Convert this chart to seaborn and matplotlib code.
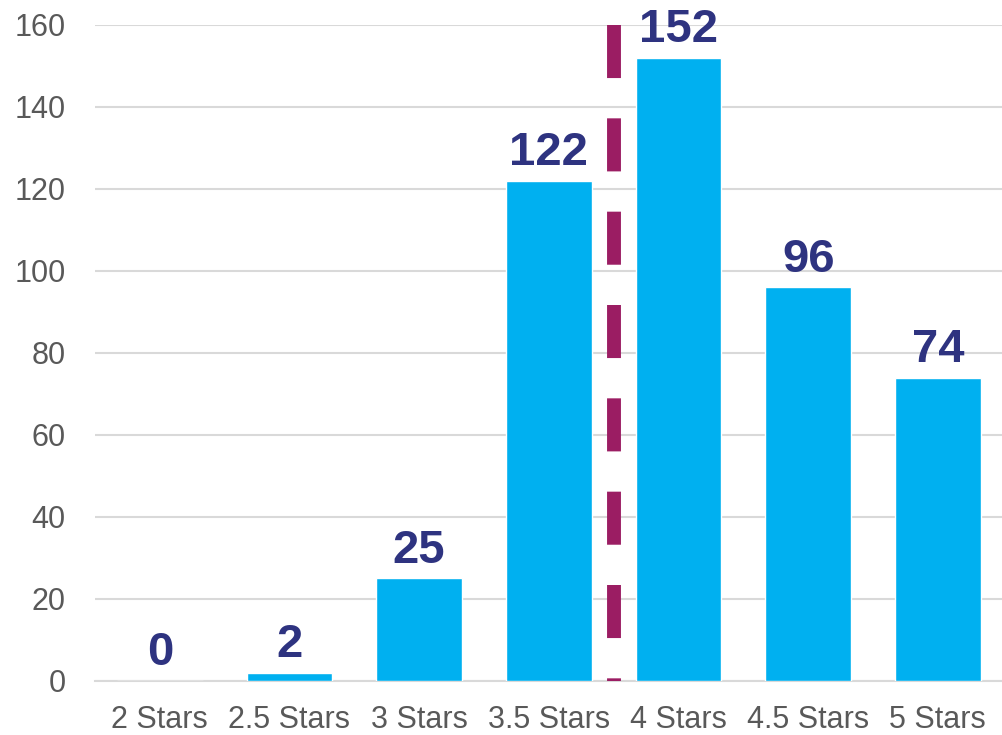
import matplotlib
matplotlib.use("Agg")
import matplotlib.pyplot as plt
import seaborn as sns
import pandas as pd

categories = ["2 Stars", "2.5 Stars", "3 Stars", "3.5 Stars", "4 Stars", "4.5 Stars", "5 Stars"]
counts = [0, 2, 25, 122, 152, 96, 74]
y_ticks = [0, 20, 40, 60, 80, 100, 120, 140, 160]
divider_position = 3.5

sns.set_theme(style="white")
plt.rcParams['font.family'] = ['Liberation Sans', 'DejaVu Sans']

df = pd.DataFrame({"category": categories, "count": counts})

fig = plt.figure(figsize=(10.03, 7.35), dpi=100)
ax = fig.add_axes([0.0947, 0.0735, 0.905, 0.8925])

sns.barplot(data=df, x="category", y="count", color="#00B0F0", saturation=1,
            width=0.66, ax=ax, zorder=3)

ax.set_ylim(0, 160)
ax.set_xlim(-0.5, 6.5)
ax.set_yticks(y_ticks)
ax.yaxis.grid(True, color="#D9D9D9", linewidth=1.5, zorder=0)
ax.set_axisbelow(True)
for s in ["top", "right", "left"]:
    ax.spines[s].set_visible(False)
ax.spines["bottom"].set_color("#D9D9D9")
ax.spines["bottom"].set_linewidth(1.5)
ax.tick_params(axis="both", length=0, labelsize=22, labelcolor="#595959")
ax.tick_params(axis="x", pad=17)
ax.tick_params(axis="y", pad=21)
ax.set_xlabel("")
ax.set_ylabel("")

for c in ax.containers:
    ax.bar_label(c, labels=[str(v) for v in counts], padding=4, fontsize=34,
                 fontweight="bold", color="#2E3380")

line, = ax.plot([divider_position, divider_position], [160, 0], color="#9B1D63",
                linewidth=10, clip_on=False, zorder=4, solid_capstyle="butt")
line.set_dashes((3.82, 2.9))
line.set_dash_capstyle("butt")

fig.savefig("out.png", dpi=100)
